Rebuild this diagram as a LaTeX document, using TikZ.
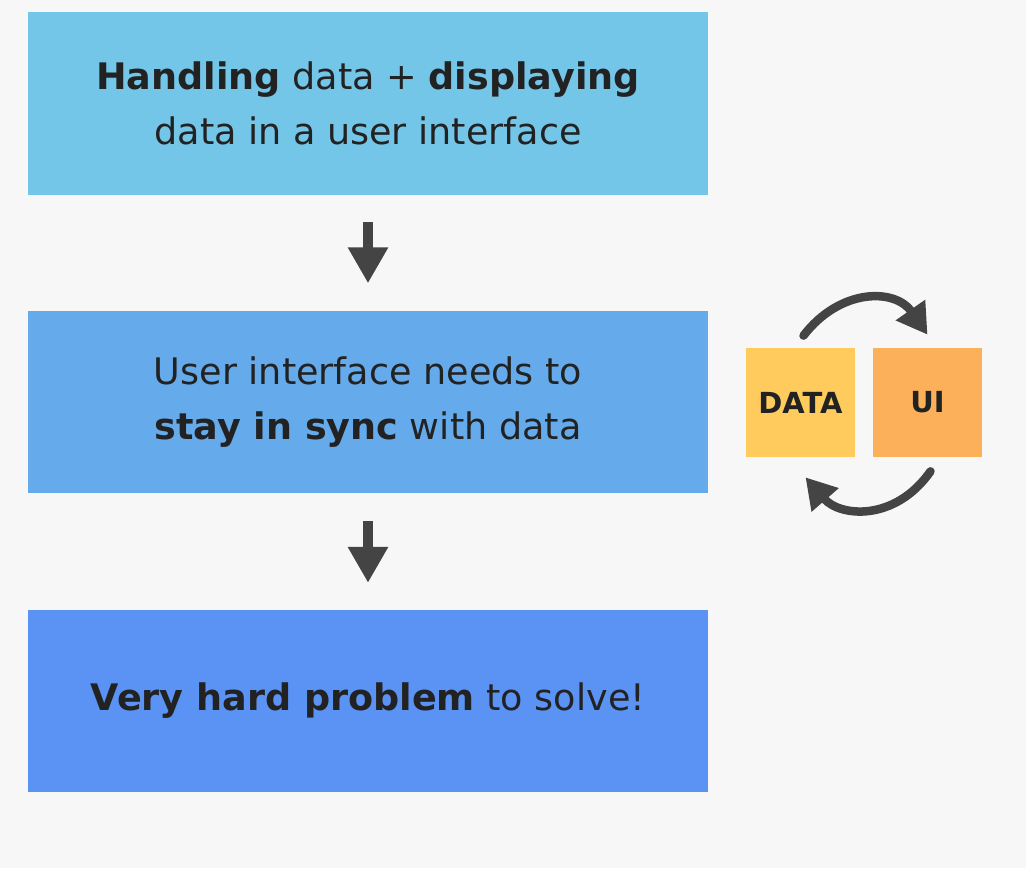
\documentclass[tikz,border=0pt]{standalone}
\usepackage{fontspec}
\setmainfont{DejaVu Sans}
\definecolor{bgrey}{HTML}{F7F7F7}
\definecolor{stepone}{HTML}{74C6E9}
\definecolor{steptwo}{HTML}{65ABEB}
\definecolor{stepthree}{HTML}{5B93F5}
\definecolor{datayellow}{HTML}{FECB5C}
\definecolor{uiorange}{HTML}{FDB05A}
\definecolor{arrowgrey}{HTML}{444444}
\definecolor{txtdark}{HTML}{222222}
\usetikzlibrary{arrows.meta,positioning}

\begin{document}
\begin{tikzpicture}[
  x=0.02cm,y=-0.02cm,
  stepbox/.style={minimum width=13.6cm,minimum height=3.66cm,align=center,
    text=txtdark,font=\fontsize{20.8}{31}\selectfont,inner sep=0pt},
  tagbox/.style={minimum width=2.18cm,minimum height=2.18cm,inner sep=0pt,
    text=txtdark,font=\fontsize{16.5}{18}\selectfont\bfseries},
  down/.style={arrowgrey,line width=10*0.02cm,-{Triangle[width=38*0.02cm,length=36*0.02cm]}},
  loop/.style={arrowgrey,line width=8.5*0.02cm,line cap=round,-{Triangle[width=34*0.02cm,length=30*0.02cm]}}
]
  \fill[bgrey] (0,0) rectangle (1026,868);
  \useasboundingbox (0,0) rectangle (1026,868);
  \node[stepbox,fill=stepone] (handle) at (368,103.5) {\textbf{Handling} data + \textbf{displaying}\\data in a user interface};
  \node[stepbox,fill=steptwo] (sync) at (368,402) {User interface needs to\\\textbf{stay in sync} with data};
  \node[stepbox,fill=stepthree] (hard) at (368,701) {\textbf{Very hard problem} to solve!};
  \node[tagbox,fill=datayellow] (data) at (800.5,402.5) {DATA};
  \node[tagbox,fill=uiorange] (ui) at (927.5,402.5) {UI};
  \draw[down] ([yshift=-27*0.02cm]handle.south) -- ([yshift=-88*0.02cm]handle.south);
  \draw[down] ([yshift=-27*0.02cm]sync.south) -- ([yshift=-89*0.02cm]sync.south);
  \draw[loop] ([shift={(3*0.02cm,12*0.02cm)}]data.north) .. controls (840,288) and (895,288) .. ([shift={(0,13*0.02cm)}]ui.north);
  \draw[loop] ([shift={(3*0.02cm,-14*0.02cm)}]ui.south) .. controls (895,522) and (840,517) .. ([shift={(5*0.02cm,-20*0.02cm)}]data.south);
\end{tikzpicture}
\end{document}
